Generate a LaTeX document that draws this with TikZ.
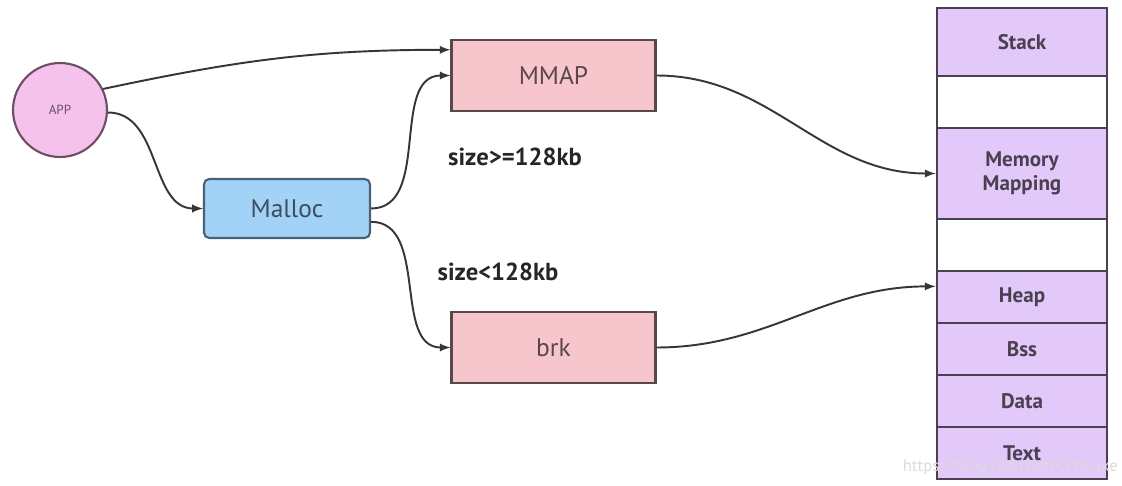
\documentclass[tikz,border=0pt]{standalone}
\usepackage{fontspec}
\setmainfont{PT Sans}
\usetikzlibrary{positioning, arrows}
\definecolor{app-fill}{RGB}{245,194,236}
\definecolor{app-line}{RGB}{110,78,100}
\definecolor{sys-fill}{RGB}{247,198,204}
\definecolor{sys-line}{RGB}{90,72,72}
\definecolor{lib-fill}{RGB}{163,210,247}
\definecolor{lib-line}{RGB}{74,96,120}
\definecolor{seg-fill}{RGB}{227,201,249}
\definecolor{seg-line}{RGB}{74,64,80}
\definecolor{wire}{RGB}{58,53,48}

\begin{document}
\begin{tikzpicture}[x=0.02cm, y=-0.02cm]
          \tikzset{ app/.style ={draw=app-line, line width=1.2pt, circle, fill=app-fill, text=app-line, minimum size=1.88cm, inner sep=0pt, font=\fontsize{7.5}{8}\selectfont} }
          \tikzset{ sys/.style ={draw=sys-line, line width=1.2pt, fill=sys-fill, text=sys-line, minimum width=4.08cm, minimum height=1.42cm, font=\fontsize{14.5}{16}\selectfont} }
          \tikzset{ lib/.style ={draw=lib-line, line width=1.2pt, rounded corners=3pt, fill=lib-fill, text=lib-line!80!black, minimum width=3.32cm, minimum height=1.18cm, font=\fontsize{14.5}{16}\selectfont} }
          \tikzset{ seg/.style ={draw=seg-line, line width=1.6pt, fill=seg-fill, text=seg-line, minimum width=3.4cm, inner sep=0pt, align=center, font=\fontsize{12}{13.5}\selectfont\bfseries} }
          \tikzset{ gap/.style ={seg, fill=white} }
          \tikzset{ cond/.style={text=black!85, font=\fontsize{14}{16}\selectfont\bfseries} }
          \tikzset{ link/.style={->, >=latex, draw=wire, line width=1.1pt} }

          \useasboundingbox (0,0) rectangle (1122,486);

          \node[app] (app)    at (60,110)     {APP};
          \node[lib] (malloc) at (287,208.5)  {Malloc};
          \node[sys] (mmap)   at (553.5,75.5) {MMAP};
          \node[sys] (brk)    at (553.5,347.5){brk};

          \node[cond] (big)   at (515,157) {size>=128kb};
          \node[cond] (small) at (498,272) {size<128kb};

          \node[seg, minimum height=1.36cm] (stack) at (1022,42)    {Stack};
          \node[gap, minimum height=1.04cm] (free1) at (1022,102)   {};
          \node[seg, minimum height=1.82cm] (mmseg) at (1022,173.5) {Memory\\Mapping};
          \node[gap, minimum height=1.04cm] (free2) at (1022,245)   {};
          \node[seg, minimum height=1.04cm] (heap)  at (1022,297)   {Heap};
          \node[seg, minimum height=1.04cm] (bss)   at (1022,349)   {Bss};
          \node[seg, minimum height=1.04cm] (data)  at (1022,401)   {Data};
          \node[seg, minimum height=1.04cm] (text)  at (1022,453)   {Text};

          \draw[link] (app.26)    to[out=12, in=180]  (mmap.166);
          \draw[link] (app.-3)    to[out=0, in=180]   (malloc.west);
          \draw[link] (malloc.east) to[out=0, in=180] (mmap.west);
          \draw[link] (malloc.-9) to[out=0, in=180]   (brk.west);
          \draw[link] (mmap.east) to[out=0, in=180]   (mmseg.west);
          \draw[link] (brk.east)  to[out=0, in=180]   (heap.173);

          % watermark
          \node[anchor=east, inner sep=1pt, text=white!72!gray, font=\fontsize{9.5}{11}\selectfont] (mark) at (1120,467) {https://blog.csdn.net/CPriLuke};
      \end{tikzpicture}
\end{document}
